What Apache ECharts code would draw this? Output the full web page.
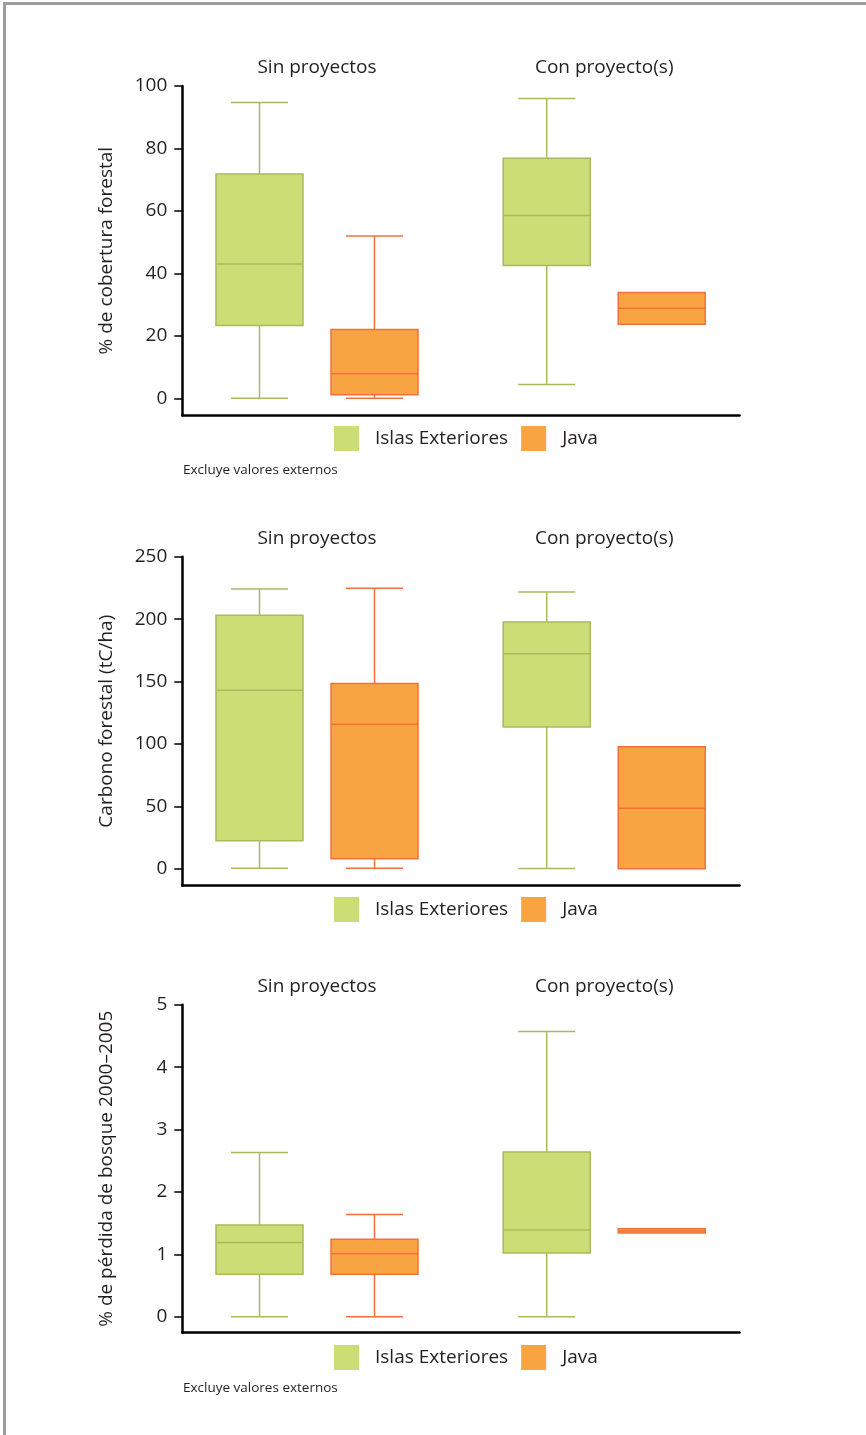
<!DOCTYPE html>
<html><head><meta charset="utf-8">
<script src="https://cdn.jsdelivr.net/npm/echarts@6/dist/echarts.min.js"></script>
<style>
html,body{margin:0;padding:0;background:#fff;}
#c{position:absolute;left:0;top:0;width:866px;height:1435px;}
#frame{position:absolute;left:3px;top:2px;width:870px;height:1440px;border-top:3px solid #9d9d9d;border-left:3px solid #9d9d9d;pointer-events:none;}
</style>
</head><body><div id="c"></div><div id="frame"></div>
<script>
// ---- data ----
const groups = ['Sin proyectos', 'Con proyecto(s)'];
const seriesNames = ['Islas Exteriores', 'Java'];
// each entry: [min, Q1, median, Q3, max] for 'Sin proyectos', 'Con proyecto(s)'
const coverIslas = [[0, 23.3, 43, 71.8, 94.7], [4.4, 42.5, 58.5, 76.9, 96]];
const coverJava = [[0, 1.1, 7.9, 22, 52], [23.7, 23.7, 28.8, 33.9, 33.9]];
const carbonIslas = [[0.5, 22.7, 143.1, 203.1, 224.2], [0.3, 113.7, 172.4, 197.8, 221.8]];
const carbonJava = [[0.5, 8.3, 115.8, 148.4, 224.7], [0.2, 0.2, 48.6, 97.9, 97.9]];
const lossIslas = [[0, 0.68, 1.19, 1.47, 2.63], [0, 1.02, 1.39, 2.64, 4.57]];
const lossJava = [[0, 0.68, 1.01, 1.24, 1.64], [1.34, 1.34, 1.375, 1.41, 1.41]];
const coverTicks = [0, 20, 40, 60, 80, 100];
const carbonTicks = [0, 50, 100, 150, 200, 250];
const lossTicks = [0, 1, 2, 3, 4, 5];
const axisNames = ['% de cobertura forestal', 'Carbono forestal (tC/ha)', '% de pérdida de bosque 2000–2005'];
const noteText = 'Excluye valores externos';

// ---- styling ----
const FONT = '"Open Sans", sans-serif';
const TXT = '#231f20';
const GREEN_FILL = '#cddd76', GREEN_LINE = '#a8ba5e';
const ORANGE_FILL = '#f8a443', ORANGE_LINE = '#f3703d';
const HALF = 43.5, CAP = 28.5, OFF = 57.5;

function makeRender(off, fill, stroke) {
  return function (params, api) {
    const x = api.value(0);
    const p = [1, 2, 3, 4, 5].map(i => api.coord([x, api.value(i)]));
    const cx = p[0][0] + off;
    const yMin = p[0][1], yQ1 = p[1][1], yMed = p[2][1], yQ3 = p[3][1], yMax = p[4][1];
    const ls = { stroke: stroke, lineWidth: 1.5, fill: null };
    const line = (x1, y1, x2, y2) => ({ type: 'line', shape: { x1, y1, x2, y2 }, style: ls });
    const ch = [];
    if (yQ3 - yMax > 0.5) { ch.push(line(cx, yMax, cx, yQ3)); ch.push(line(cx - CAP, yMax, cx + CAP, yMax)); }
    if (yMin - yQ1 > 0.5) { ch.push(line(cx, yQ1, cx, yMin)); ch.push(line(cx - CAP, yMin, cx + CAP, yMin)); }
    ch.push({ type: 'rect', shape: { x: cx - HALF, y: yQ3, width: 2 * HALF, height: Math.max(yQ1 - yQ3, 1) }, style: { fill: fill, stroke: stroke, lineWidth: 1.5 } });
    ch.push(line(cx - HALF, yMed, cx + HALF, yMed));
    return { type: 'group', children: ch };
  };
}

const panels = [
  { top: 86, height: 329.3, min: -5.44, max: 100, ticks: coverTicks, islas: coverIslas, java: coverJava, legendTop: 426, name: axisNames[0] },
  { top: 556.7, height: 329, min: -13.37, max: 250, ticks: carbonTicks, islas: carbonIslas, java: carbonJava, legendTop: 897, name: axisNames[1] },
  { top: 1004.7, height: 328, min: -0.256, max: 5, ticks: lossTicks, islas: lossIslas, java: lossJava, legendTop: 1345, name: axisNames[2] }
];

const XMIN = -0.469, XMAX = 1.471;
const option = { animation: false, grid: [], xAxis: [], yAxis: [], series: [], legend: [], graphic: [] };

panels.forEach((pn, k) => {
  option.grid.push({ left: 182.3, right: 126.5, top: pn.top, height: pn.height });
  option.xAxis.push({
    gridIndex: k, type: 'value', min: XMIN, max: XMAX, position: 'bottom',
    axisLine: { show: true, onZero: false, lineStyle: { color: '#000', width: 2.5 } },
    axisTick: { show: false }, axisLabel: { show: false }, splitLine: { show: false }
  });
  option.xAxis.push({
    gridIndex: k, type: 'value', min: XMIN, max: XMAX, position: 'top',
    axisLine: { show: false }, axisTick: { show: false }, splitLine: { show: false },
    axisLabel: { show: true, customValues: [0, 1], margin: 9, fontFamily: FONT, fontSize: 19, color: TXT,
      formatter: v => groups[Math.round(v)] }
  });
  option.yAxis.push({
    gridIndex: k, type: 'value', min: pn.min, max: pn.max,
    name: pn.name, nameLocation: 'middle', nameGap: 66,
    nameTextStyle: { fontFamily: FONT, fontSize: 19, color: TXT },
    axisLine: { show: true, onZero: false, lineStyle: { color: '#000', width: 2.5 } },
    axisTick: { show: true, length: 8, customValues: pn.ticks, lineStyle: { color: '#000', width: 1.5 } },
    axisLabel: { show: true, customValues: pn.ticks, margin: 15, fontFamily: FONT, fontSize: 19, color: TXT },
    splitLine: { show: false }
  });
  [[pn.islas, seriesNames[0], -OFF, GREEN_FILL, GREEN_LINE], [pn.java, seriesNames[1], OFF, ORANGE_FILL, ORANGE_LINE]].forEach(([arr, nm, off, fill, stroke]) => {
    option.series.push({
      type: 'custom', name: nm, xAxisIndex: 2 * k, yAxisIndex: k,
      itemStyle: { color: fill },
      dimensions: ['g', 'min', 'Q1', 'median', 'Q3', 'max'],
      encode: { x: 0, y: [1, 2, 3, 4, 5] },
      data: arr.map((d, i) => [i].concat(d)),
      renderItem: makeRender(off, fill, stroke)
    });
  });
  option.legend.push({
    data: seriesNames, left: 334, top: pn.legendTop, padding: 0, icon: 'rect',
    itemWidth: 25, itemHeight: 25, itemGap: 13, selectedMode: false,
    textStyle: { fontFamily: FONT, fontSize: 19, color: TXT, padding: [0, 0, 0, 11] }
  });
});

option.graphic.push({ type: 'text', left: 183, top: 463, style: { text: noteText, font: '13.5px "Open Sans", sans-serif', fill: TXT } });
option.graphic.push({ type: 'text', left: 183, top: 1381, style: { text: noteText, font: '13.5px "Open Sans", sans-serif', fill: TXT } });

const chart = echarts.init(document.getElementById('c'), null, { renderer: 'canvas' });
chart.setOption(option);
</script>
</body></html>
